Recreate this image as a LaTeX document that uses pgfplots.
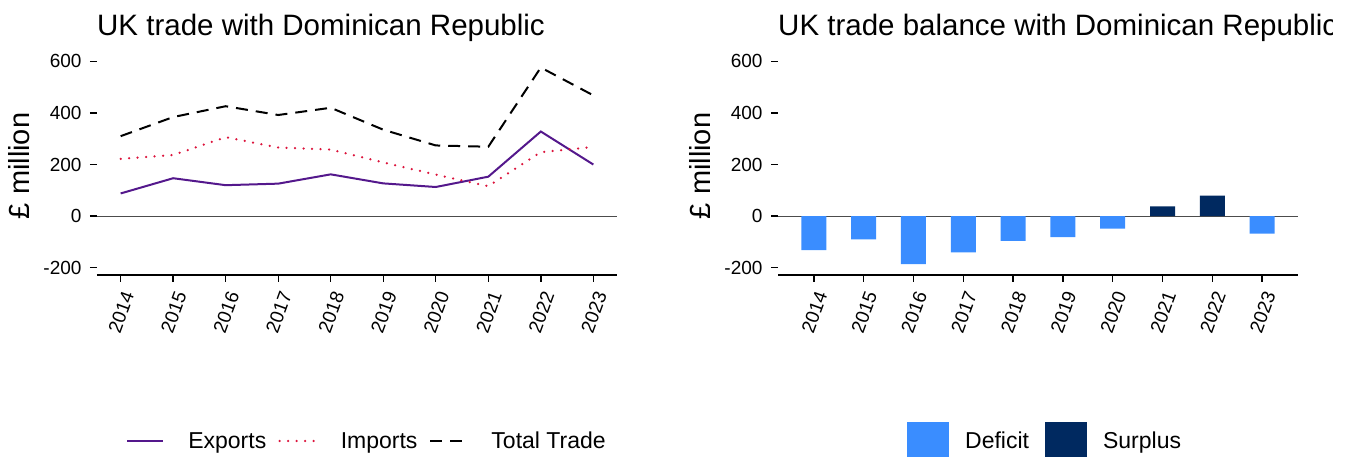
\documentclass[border=0pt]{standalone}
\usepackage{fontspec}
\setmainfont{Liberation Sans}
\usepackage{pgfplots}
\pgfplotsset{compat=1.18}
\definecolor{expc}{RGB}{84,24,140}
\definecolor{impc}{RGB}{220,20,60}
\definecolor{defc}{RGB}{58,141,255}
\definecolor{surc}{RGB}{0,41,96}
\pgfplotsset{
 common/.style={
  scale only axis, width=520pt, height=224pt, anchor=south west,
  ymin=-228, ymax=640,
  ytick={-200,0,200,400,600},
  xtick={0,...,9},
  xticklabels={2014,2015,2016,2017,2018,2019,2020,2021,2022,2023},
  axis x line*=bottom, axis y line*=left,
  y axis line style={draw=none},
  x axis line style={line width=2pt,-},
  tick style={black, line width=1.4pt},
  major tick length=7pt,
  tick align=outside,
  /pgf/number format/assume math mode=true,
  /pgf/number format/1000 sep={},
  ticklabel style={font=\fontsize{19}{22}\selectfont},
  yticklabel style={xshift=-5pt},
  xticklabel style={xshift=9pt, yshift=-7pt, rotate=70, anchor=east},
  ylabel={£ million},
  ylabel style={font=\fontsize{29}{32}\selectfont, at={(axis description cs:-0.15,0.487)}, anchor=center},
  clip=false,
 }
}
\begin{document}
\begin{tikzpicture}
\path[use as bounding box] (0,0) rectangle (1347pt,457pt);
\node[anchor=base west, font=\fontsize{29.5}{32}\selectfont, inner sep=0pt] at (97pt,421pt) {UK trade with Dominican Republic};
\begin{scope}
\clip (0,0) rectangle (1332pt,457pt);
\node[anchor=base west, font=\fontsize{29.5}{32}\selectfont, inner sep=0pt] at (778pt,421pt) {UK trade balance with Dominican Republic};
\end{scope}
\begin{axis}[common, at={(97pt,182pt)}, xmin=-0.45, xmax=9.45,
  legend columns=3,
  legend style={at={(axis description cs:0.056,-0.741)}, anchor=west, draw=none, fill=none, inner sep=0pt,
    font=\fontsize{23}{26}\selectfont, cells={anchor=west},
    /tikz/every even column/.append style={column sep=10pt},
    /tikz/every odd column/.append style={column sep=22pt}},
  legend image code/.code={\draw[#1] (0pt,0pt) -- (36pt,0pt);}]
\draw[black!70, line width=0.8pt] (axis cs:-0.45,0) -- (axis cs:9.45,0);
\addplot[expc, line width=2pt] coordinates {(0,88) (1,147) (2,120) (3,126) (4,162) (5,127) (6,113) (7,153) (8,328) (9,200)};
\addlegendentry{Exports}
\addplot[impc, line width=2.5pt, line cap=round, dash pattern=on 0pt off 8.5pt] coordinates {(0,222) (1,237) (2,306) (3,266) (4,258) (5,208) (6,161) (7,116) (8,248) (9,268)};
\addlegendentry{Imports}
\addplot[black, line width=2pt, dash pattern=on 12pt off 8pt] coordinates {(0,310) (1,384) (2,426) (3,392) (4,420) (5,335) (6,274) (7,269) (8,576) (9,468)};
\addlegendentry{Total Trade}
\end{axis}
\begin{axis}[common, at={(778pt,182pt)}, xmin=-0.72, xmax=9.72,
  legend columns=2,
  legend style={at={(axis description cs:0.248,-0.741)}, anchor=west, draw=none, fill=none, inner sep=0pt,
    font=\fontsize{23}{26}\selectfont, cells={anchor=west},
    /tikz/every even column/.append style={column sep=14pt},
    /tikz/every odd column/.append style={column sep=14pt}},
  legend image code/.code={\fill[#1] (0pt,-18.5pt) rectangle (42pt,18.5pt);}]
\draw[black!70, line width=0.8pt] (axis cs:-0.72,0) -- (axis cs:9.72,0);
\addplot[ybar, bar width=25pt, bar shift=0pt, fill=defc, draw=none] coordinates {(0,-132) (1,-90) (2,-186) (3,-140) (4,-96) (5,-81) (6,-48) (9,-68)};
\addlegendentry{Deficit}
\addplot[ybar, bar width=25pt, bar shift=0pt, fill=surc, draw=none] coordinates {(7,38) (8,80)};
\addlegendentry{Surplus}
\end{axis}
\end{tikzpicture}
\end{document}
